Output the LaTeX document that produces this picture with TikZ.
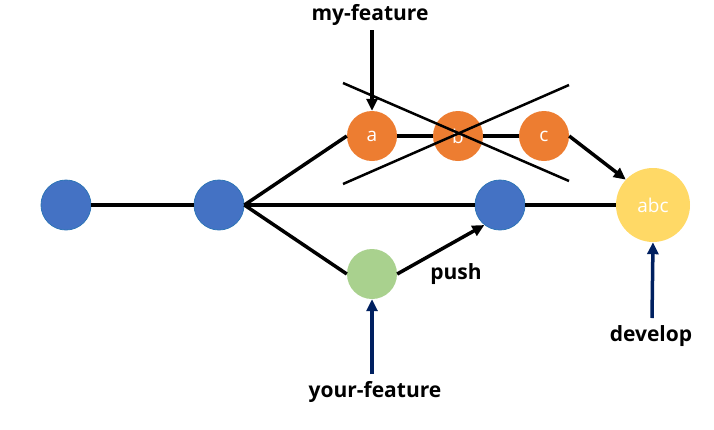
\documentclass[tikz,border=0pt]{standalone}
\usepackage{fontspec}
\setmainfont{Open Sans}
\usetikzlibrary{arrows.meta}
\definecolor{cblue}{HTML}{4472C4}
\definecolor{cedge}{HTML}{2E75B6}
\definecolor{corange}{HTML}{ED7D31}
\definecolor{cgreen}{HTML}{A9D18E}
\definecolor{cyellow}{HTML}{FFD966}
\definecolor{cnavy}{HTML}{002060}
\tikzset{
  commit/.style={circle, minimum size=50pt, inner sep=0pt, text=white, font=\fontsize{19}{19}\selectfont},
  base/.style={commit, fill=cblue, draw=cedge, line width=0.8pt},
  mine/.style={commit, fill=corange},
  yours/.style={commit, fill=cgreen},
  merged/.style={commit, fill=cyellow, minimum size=74pt},
  tag/.style={font=\fontsize{21}{21}\selectfont\bfseries},
  link/.style={line width=3.5pt},
  ptr/.style={line width=3.5pt, -{Triangle[length=12pt,width=11pt]}},
}
\begin{document}
\begin{tikzpicture}[x=1pt, y=-1pt]
    \useasboundingbox (0,0) rectangle (714,429);
    % Commits
    \node[base] (c0) at (66, 205) {};
    \node[base] (c1) at (219, 205) {};
    \node[base] (c2) at (500, 205) {};
    \node[mine] (a) at (372, 136) {a};
    \node[mine] (b) at (458, 136) {b};
    \node[mine] (c) at (544, 136) {c};
    \node[yours] (g) at (372, 274) {};
    \node[merged] (abc) at (653, 205) {abc};
    % Branch names
    \node[tag] (myf) at (370, 15) {my-feature};
    \node[tag] (yourf) at (375, 392) {your-feature};
    \node[tag] (dev) at (651, 336) {develop};
    \node[tag] (push) at (456, 274) {push};
    \coordinate (myfend) at (372, 30);
    \coordinate (yourfend) at (372, 374);
    \coordinate (devend) at (652, 318);
    %
    % History edges:
  \draw[link] (c0) -- (c1);
  \draw[link] (c1.east) -- (a.west);
  \draw[link] (c1.east) -- (c2);
  \draw[link] (c1.east) -- (g.west);
  \draw[link] (a) -- (b);
  \draw[link] (b) -- (c);
  \draw[link] (c2) -- (abc);
  \draw[ptr] (c.east) -- (abc.137);
  \draw[ptr] (g.east) -- (c2.232);
    % Crossed out commits
  \draw[line width=2.5pt] (343, 83) -- (569, 181);
  \draw[line width=2.5pt] (343, 184) -- (569, 85);
    % Pointers
  \draw[ptr] (myfend) -- (a.north);
  \draw[ptr, cnavy] (yourfend) -- (g.south);
  \draw[ptr, cnavy] (devend) -- (abc.south);
    \end{tikzpicture}
\end{document}
